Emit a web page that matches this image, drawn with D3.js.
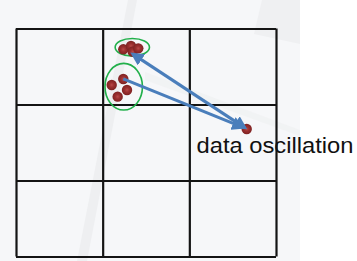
<!DOCTYPE html>
<html>
<head>
<meta charset="utf-8">
<script src="https://cdn.jsdelivr.net/npm/d3@7"></script>
<style>
  html, body { margin: 0; padding: 0; background: #fff; }
  svg { display: block; }
</style>
</head>
<body>
<div id="chart"></div>
<script>
// data
const gridTicks = [0, 1, 2, 3]
const topClusterX = [1.238, 1.327, 1.346, 1.411]
const topClusterY = [2.726, 2.770, 2.695, 2.739]
const lowClusterX = [1.238, 1.104, 1.281, 1.173]
const lowClusterY = [2.336, 2.257, 2.191, 2.103]
const outlierX = [2.662]
const outlierY = [1.678]
// cluster outlines: cx, cy, rx, ry (data units)
const clusterCx = [1.342, 1.243]
const clusterCy = [2.753, 2.234]
const clusterRx = [0.198, 0.216]
const clusterRy = [0.116, 0.307]
const label = 'data oscillation'

const width = 357
const height = 261

const x = d3.scaleLinear().domain([0, 3]).range([16, 276])
const y = d3.scaleLinear().domain([3, 0]).range([28.5, 256.5])

const svg = d3.select('#chart').append('svg')
  .attr('width', width)
  .attr('height', height)

const defs = svg.append('defs')
const grad = defs.append('radialGradient').attr('id', 'dot')
grad.append('stop').attr('offset', '0%').attr('stop-color', '#b84848')
grad.append('stop').attr('offset', '45%').attr('stop-color', '#9a2f2f')
grad.append('stop').attr('offset', '100%').attr('stop-color', '#7e2222')

defs.append('marker')
  .attr('id', 'head')
  .attr('viewBox', '0 0 10 10')
  .attr('refX', 8).attr('refY', 5)
  .attr('markerWidth', 4.5).attr('markerHeight', 4.5)
  .attr('orient', 'auto-start-reverse')
  .append('path')
  .attr('d', 'M0,0 L10,5 L0,10 z')
  .attr('fill', '#4a7ebb')

// slide background + faint decorations
svg.append('rect').attr('width', 300).attr('height', height).attr('fill', '#f6f7f9')
svg.append('path')
  .attr('d', 'M128,0 L137,0 L87,261 L77,261 Z')
  .attr('fill', '#eeeff1')
svg.append('path')
  .attr('d', 'M262,0 L300,0 L300,44 L254,34 Z')
  .attr('fill', '#eff0f2')
svg.append('path')
  .attr('d', 'M145,72 L300,130 L300,136 L145,80 Z')
  .attr('fill', '#f0f1f3')
  .attr('opacity', 0.8)

// grid through axes
const grid = svg.append('g').attr('class', 'grid')
grid.append('g')
  .attr('transform', 'translate(0,' + y(0) + ')')
  .call(d3.axisBottom(x).tickValues(gridTicks).tickSize(y(3) - y(0)).tickFormat(''))
grid.append('g')
  .attr('transform', 'translate(' + x(0) + ',0)')
  .call(d3.axisLeft(y).tickValues(gridTicks).tickSize(x(0) - x(3)).tickFormat(''))
grid.selectAll('.domain').remove()
grid.selectAll('line').attr('stroke', '#141414').attr('stroke-width', 2.2)

// cluster outlines
svg.selectAll('.cluster')
  .data(clusterCx)
  .enter().append('ellipse')
  .attr('class', 'cluster')
  .attr('cx', d => x(d))
  .attr('cy', (d, i) => y(clusterCy[i]))
  .attr('rx', (d, i) => x(clusterRx[i]) - x(0))
  .attr('ry', (d, i) => y(0) - y(clusterRy[i]))
  .attr('fill', 'none')
  .attr('stroke', '#22b04b')
  .attr('stroke-width', 1.6)

// arrows
function arrow (x1, y1, x2, y2, both) {
  const px1 = x(x1), py1 = y(y1), px2 = x(x2), py2 = y(y2)
  const len = Math.hypot(px2 - px1, py2 - py1)
  const ux = (px2 - px1) / len, uy = (py2 - py1) / len
  const a = both ? 2 : 0
  svg.append('line')
    .attr('x1', px1 + ux * a).attr('y1', py1 + uy * a)
    .attr('x2', px2 - ux * 4).attr('y2', py2 - uy * 4)
    .attr('stroke', '#4a7ebb')
    .attr('stroke-width', 3)
    .attr('marker-end', 'url(#head)')
    .attr('marker-start', both ? 'url(#head)' : null)
}

// points
const points = []
topClusterX.forEach((d, i) => points.push([d, topClusterY[i]]))
lowClusterX.forEach((d, i) => points.push([d, lowClusterY[i]]))
outlierX.forEach((d, i) => points.push([d, outlierY[i]]))

svg.selectAll('.pt')
  .data(points)
  .enter().append('circle')
  .attr('class', 'pt')
  .attr('cx', d => x(d[0]))
  .attr('cy', d => y(d[1]))
  .attr('r', 5.2)
  .attr('fill', 'url(#dot)')

arrow(lowClusterX[0], lowClusterY[0], outlierX[0], outlierY[0], false)
arrow(outlierX[0], outlierY[0], topClusterX[2] - 0.04, topClusterY[2], true)

svg.append('text')
  .attr('x', 196.5)
  .attr('y', 153.3)
  .attr('font-family', 'Liberation Sans, Arial, sans-serif')
  .attr('font-size', 22.5)
  .attr('textLength', 157)
  .attr('lengthAdjust', 'spacingAndGlyphs')
  .attr('fill', '#111')
  .text(label)
</script>
</body>
</html>
